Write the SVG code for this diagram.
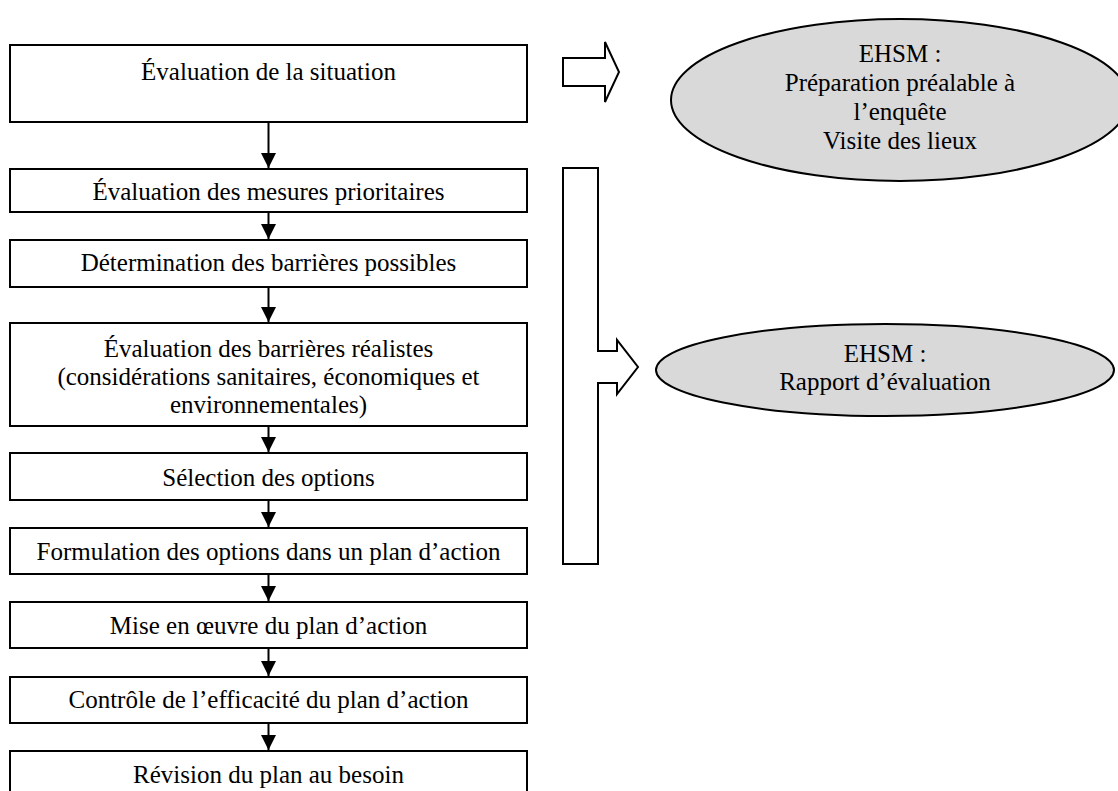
<svg xmlns="http://www.w3.org/2000/svg" width="1118" height="791" viewBox="0 0 1118 791">
<defs>
<style>
.box{fill:#fff;stroke:#000;stroke-width:2}
.ell{fill:#d9d9d9;stroke:#000;stroke-width:2}
.t{font-family:"Liberation Serif","Times New Roman",serif;font-size:25px;fill:#000;text-anchor:middle}
.ln{stroke:#000;stroke-width:2;fill:none}
.blk{fill:#fff;stroke:#000;stroke-width:2;stroke-linejoin:miter}
</style>
<marker id="ah" viewBox="0 0 10 10" refX="10" refY="5" markerWidth="7.5" markerHeight="7.5" markerUnits="strokeWidth" orient="auto">
<path d="M0,0 L10,5 L0,10 Z" fill="#000"/>
</marker>
</defs>
<rect width="1118" height="791" fill="#fff"/>

<g id="connectors">
<line class="ln" x1="268.5" y1="122" x2="268.5" y2="168" marker-end="url(#ah)"/>
<line class="ln" x1="268.5" y1="212" x2="268.5" y2="239" marker-end="url(#ah)"/>
<line class="ln" x1="268.5" y1="287" x2="268.5" y2="322" marker-end="url(#ah)"/>
<line class="ln" x1="268.5" y1="426" x2="268.5" y2="452" marker-end="url(#ah)"/>
<line class="ln" x1="268.5" y1="500" x2="268.5" y2="527" marker-end="url(#ah)"/>
<line class="ln" x1="268.5" y1="574" x2="268.5" y2="601" marker-end="url(#ah)"/>
<line class="ln" x1="268.5" y1="648" x2="268.5" y2="676" marker-end="url(#ah)"/>
<line class="ln" x1="268.5" y1="722" x2="268.5" y2="750" marker-end="url(#ah)"/>
<path id="block-arrow-1" class="blk" d="M563,58 H605 V42 L619,72 L605,102 V86 H563 Z"/>
<path id="bracket-arrow" class="blk" d="M563,168 H598 V351 H617 V340 L638,367 L617,394 V383 H598 V564 H563 Z"/>
</g>

<g id="n1"><rect class="box" x="10" y="45" width="517" height="77"/><text class="t" x="268.5" y="80">Évaluation de la situation</text></g>
<g id="n2"><rect class="box" x="10" y="169" width="517" height="43"/><text class="t" x="268.5" y="200">Évaluation des mesures prioritaires</text></g>
<g id="n3"><rect class="box" x="10" y="240" width="517" height="47"/><text class="t" x="268.5" y="271">Détermination des barrières possibles</text></g>
<g id="n4"><rect class="box" x="10" y="323" width="517" height="103"/><text class="t" x="268.5" y="357">Évaluation des barrières réalistes</text><text class="t" x="268.5" y="385">(considérations sanitaires, économiques et</text><text class="t" x="268.5" y="413">environnementales)</text></g>
<g id="n5"><rect class="box" x="10" y="453" width="517" height="47"/><text class="t" x="268.5" y="486">Sélection des options</text></g>
<g id="n6"><rect class="box" x="10" y="528" width="517" height="46"/><text class="t" x="268.5" y="560">Formulation des options dans un plan d’action</text></g>
<g id="n7"><rect class="box" x="10" y="602" width="517" height="46"/><text class="t" x="268.5" y="634">Mise en œuvre du plan d’action</text></g>
<g id="n8"><rect class="box" x="10" y="677" width="517" height="46"/><text class="t" x="268.5" y="708">Contrôle de l’efficacité du plan d’action</text></g>
<g id="n9"><rect class="box" x="10" y="751" width="517" height="46"/><text class="t" x="268.5" y="783">Révision du plan au besoin</text></g>

<g id="e1"><ellipse class="ell" cx="900" cy="100" rx="229" ry="81"/><text class="t" x="900" y="62">EHSM :</text><text class="t" x="900" y="91">Préparation préalable à</text><text class="t" x="900" y="120">l’enquête</text><text class="t" x="900" y="149">Visite des lieux</text></g>
<g id="e2"><ellipse class="ell" cx="885" cy="370" rx="229" ry="46"/><text class="t" x="885" y="362">EHSM :</text><text class="t" x="885" y="390">Rapport d’évaluation</text></g>
</svg>
